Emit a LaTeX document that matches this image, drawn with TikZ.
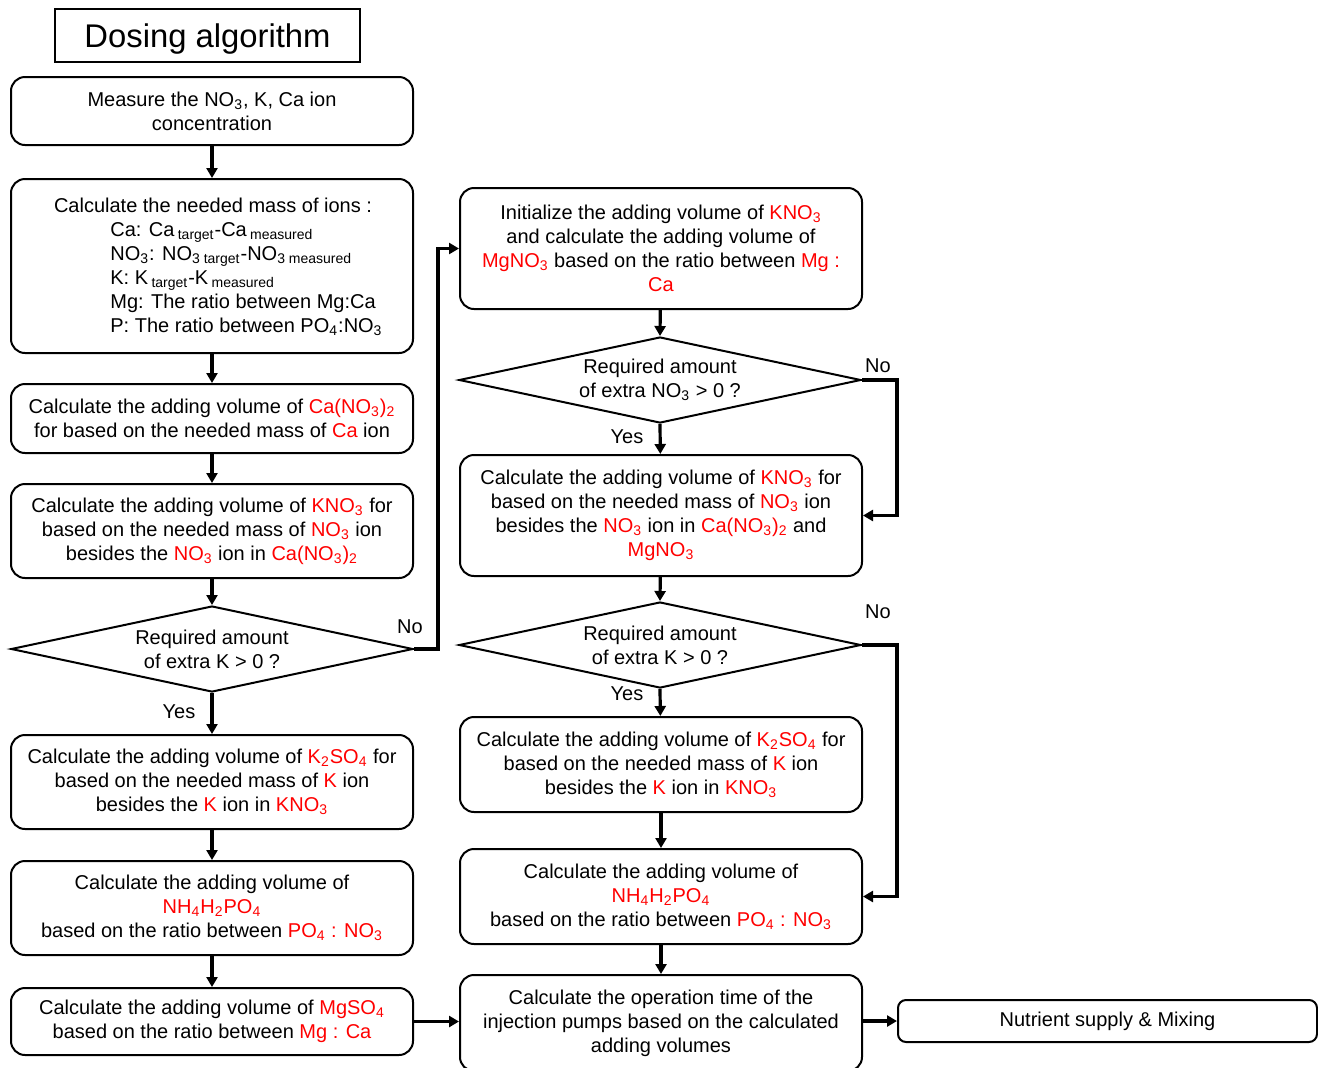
\documentclass[tikz,border=0pt]{standalone}
\usepackage{fontspec}
\setmainfont{Liberation Sans}
\usetikzlibrary{shapes.geometric,arrows.meta}
\definecolor{myred}{RGB}{255,0,0}
\newcommand\chemsub[1]{\textsubscript{#1}}
\newcommand\redt[1]{\textcolor{myred}{#1}}
\begin{document}
\begin{tikzpicture}[x=0.5pt,y=-0.5pt,
  every node/.style={font=\fontsize{10}{12}\selectfont, inner sep=0pt},
  box/.style={draw, line width=1pt, rounded corners=7pt, align=center, minimum width=201pt},
  dec/.style={draw, line width=1pt, shape=diamond, align=center, minimum width=201pt, minimum height=43pt, aspect=4},
  arr/.style={line width=1.6pt, -{Triangle[width=5.5pt,length=5pt]}},
  lbl/.style={font=\fontsize{10}{12}\selectfont}]
\useasboundingbox (0,0) rectangle (1318,1067);
% title
\node[draw, line width=1pt, minimum width=152.5pt, minimum height=26.5pt, text height=13.5pt, text depth=2pt, font=\fontsize{16.4}{18}\selectfont] (title) at (207.5,35.5) {Dosing algorithm};
% left column
\node[box, minimum height=34pt] (b1) at (212,111) {Measure the NO\chemsub{3}, K, Ca ion\\concentration};
\node[box, minimum height=87pt] (b2) at (212,266) {};
\node (b2h) at (213,205) {Calculate the needed mass of ions :};
\node[align=left, anchor=west] (b2t) at (110,279) {Ca: Ca\,\chemsub{target}-Ca\,\chemsub{measured}\\NO\chemsub{3}: NO\chemsub{3 target}-NO\chemsub{3 measured}\\K: K\,\chemsub{target}-K\,\chemsub{measured}\\Mg: The ratio between Mg:Ca\\P: The ratio between PO\chemsub{4}:NO\chemsub{3}};
\node[box, minimum height=34.5pt] (b3) at (212,418.5) {Calculate the adding volume of \redt{Ca(NO\chemsub{3})\chemsub{2}}\\for based on the needed mass of \redt{Ca} ion};
\node[box, minimum height=47pt] (b4) at (212,531) {Calculate the adding volume of \redt{KNO\chemsub{3}} for\\based on the needed mass of \redt{NO\chemsub{3}} ion\\besides the \redt{NO\chemsub{3}} ion in \redt{Ca(NO\chemsub{3})\chemsub{2}}};
\node[dec] (d1) at (212,649) {Required amount\\of extra K > 0 ?};
\node[box, minimum height=47pt] (b5) at (212,782) {Calculate the adding volume of \redt{K\chemsub{2}SO\chemsub{4}} for\\based on the needed mass of \redt{K} ion\\besides the \redt{K} ion in \redt{KNO\chemsub{3}}};
\node[box, minimum height=47pt] (b6) at (212,908) {Calculate the adding volume of\\\redt{NH\chemsub{4}H\chemsub{2}PO\chemsub{4}}\\based on the ratio between \redt{PO\chemsub{4} : NO\chemsub{3}}};
\node[box, minimum height=33.5pt] (b7) at (212,1021.5) {Calculate the adding volume of \redt{MgSO\chemsub{4}}\\based on the ratio between \redt{Mg : Ca}};
% right column
\node[box, minimum height=60.5pt] (r1) at (661,248.5) {Initialize the adding volume of \redt{KNO\chemsub{3}}\\and calculate the adding volume of\\\redt{MgNO\chemsub{3}} based on the ratio between \redt{Mg :}\\\redt{Ca}};
\node[dec] (dr1) at (660,380) {Required amount\\of extra NO\chemsub{3} > 0 ?};
\node[box, minimum height=60.5pt] (r2) at (661,515.5) {Calculate the adding volume of \redt{KNO\chemsub{3}} for\\based on the needed mass of \redt{NO\chemsub{3}} ion\\besides the \redt{NO\chemsub{3}} ion in \redt{Ca(NO\chemsub{3})\chemsub{2}} and\\\redt{MgNO\chemsub{3}}};
\node[dec] (dr2) at (660,645) {Required amount\\of extra K > 0 ?};
\node[box, minimum height=47.5pt] (r3) at (661,764.5) {Calculate the adding volume of \redt{K\chemsub{2}SO\chemsub{4}} for\\based on the needed mass of \redt{K} ion\\besides the \redt{K} ion in \redt{KNO\chemsub{3}}};
\node[box, minimum height=47.5pt] (r4) at (661,896.5) {Calculate the adding volume of\\\redt{NH\chemsub{4}H\chemsub{2}PO\chemsub{4}}\\based on the ratio between \redt{PO\chemsub{4} : NO\chemsub{3}}};
\node[box, minimum height=48pt] (r5) at (661,1023) {Calculate the operation time of the\\injection pumps based on the calculated\\adding volumes};
\node[box, rounded corners=4pt, minimum width=209.5pt, minimum height=21pt] (nut) at (1107.5,1021) {Nutrient supply \& Mixing};
% labels
\node[lbl] (y1) at (179,712) {Yes};
\node[lbl] (y2) at (627,437) {Yes};
\node[lbl] (y3) at (627,694) {Yes};
\node[lbl] (n1) at (410,627) {No};
\node[lbl] (n2) at (878,366) {No};
\node[lbl] (n3) at (878,612) {No};
% connectors
\draw[arr] (b1) -- (b2);
\draw[arr] (b2) -- (b3);
\draw[arr] (b3) -- (b4);
\draw[arr] (b4) -- (d1.north);
\draw[arr] (d1.south) -- (b5);
\draw[arr] (b5) -- (b6);
\draw[arr] (b6) -- (b7);
\draw[arr] (d1.east) -- ++(24,0) |- (r1.west);
\draw[arr] (r1) -- (dr1.north);
\draw[arr] (dr1.south) -- (r2);
\draw[arr] (dr1.east) -- ++(35,0) |- (r2.east);
\draw[arr] (r2) -- (dr2.north);
\draw[arr] (dr2.south) -- (r3);
\draw[arr] (dr2.east) -- ++(35,0) |- (r4.east);
\draw[arr] (r3) -- (r4);
\draw[arr] (r4) -- (r5);
\draw[arr] (b7.east) -- (b7.east -| r5.west);
\draw[arr] (nut.west -| r5.east) -- (nut.west);
\end{tikzpicture}
\end{document}
